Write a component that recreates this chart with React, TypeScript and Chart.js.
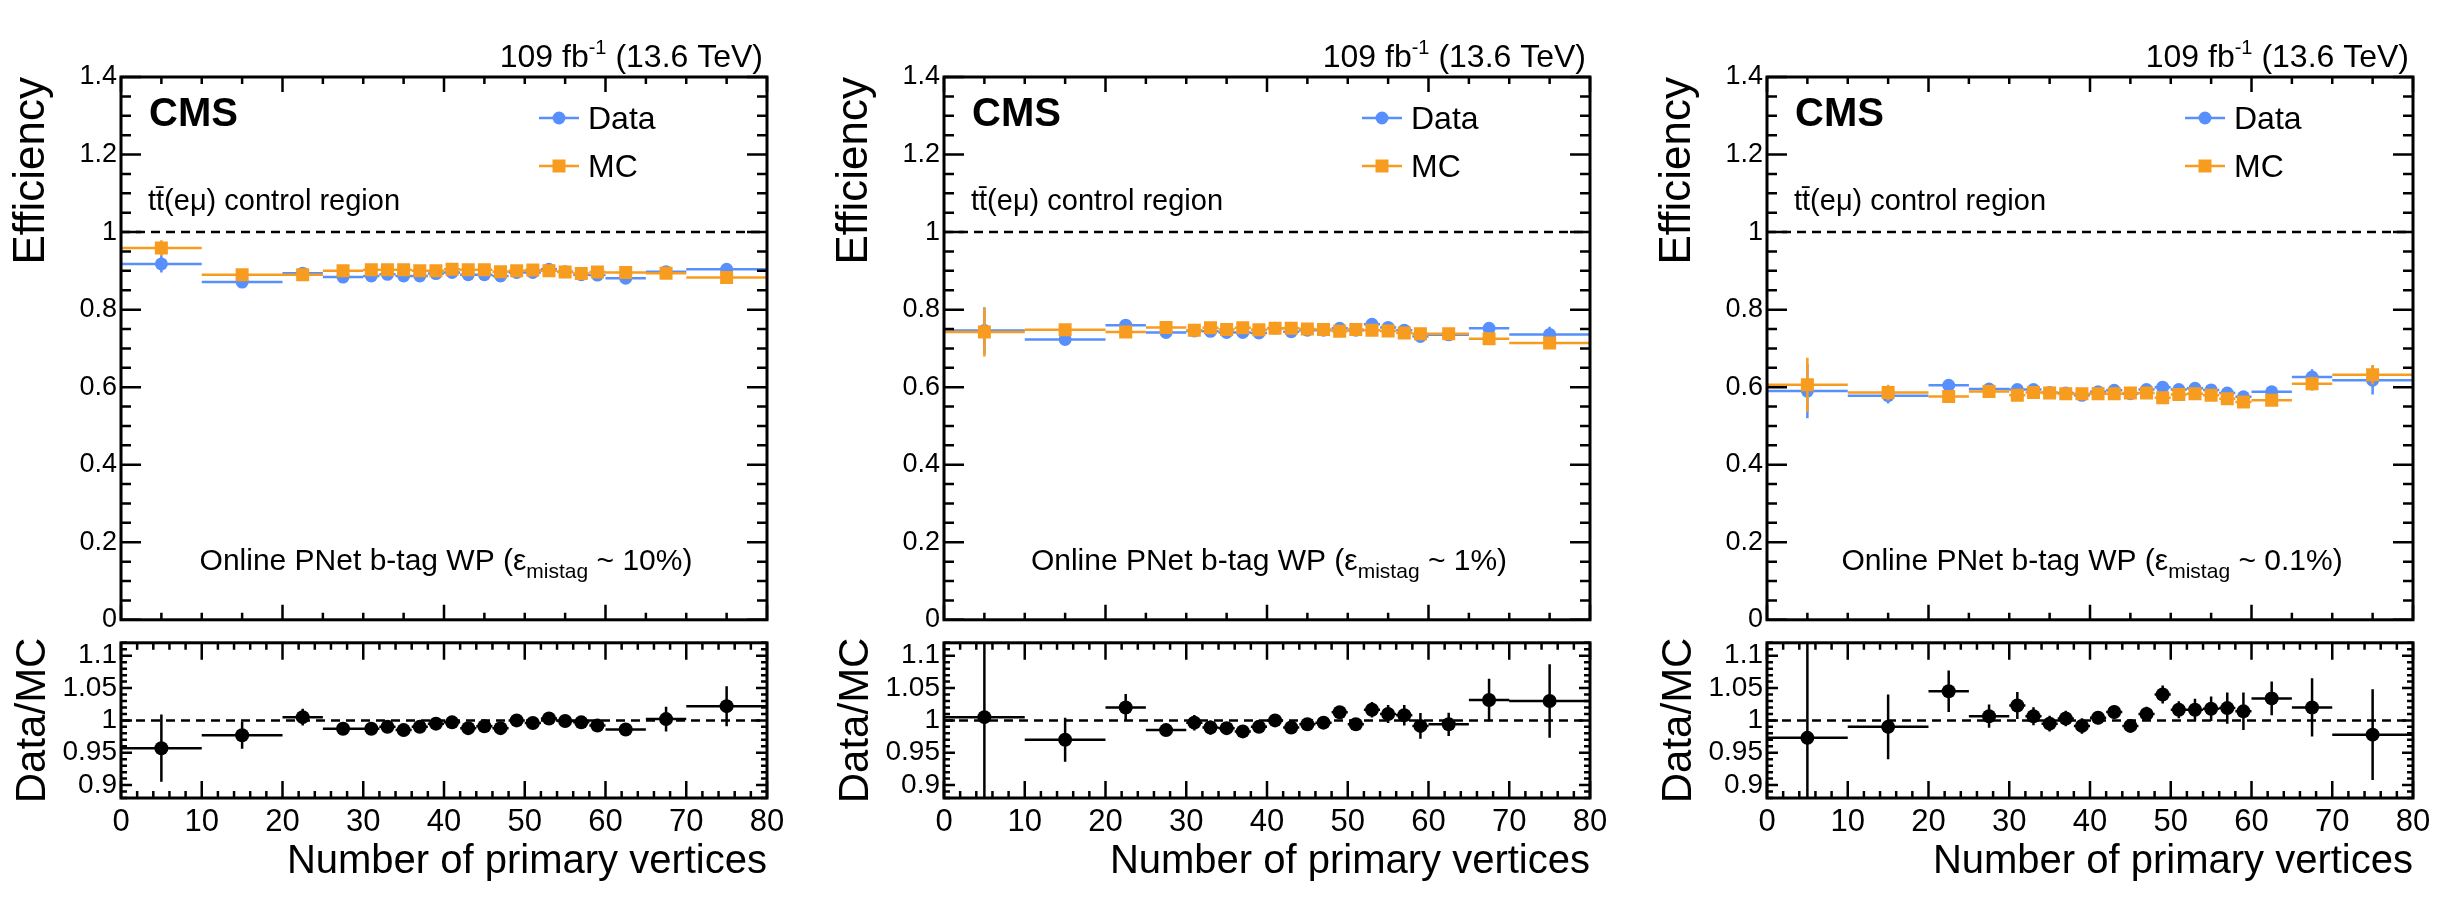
import React, { useEffect, useRef } from 'react';
import Chart from 'chart.js/auto';

// bins in number of primary vertices
const binEdges = [0, 10, 20, 25, 30, 32, 34, 36, 38, 40, 42, 44, 46, 48, 50, 52, 54, 56, 58, 60, 65, 70, 80];

// WP with 10% mistag rate
const effData10 = [0.918, 0.871, 0.894, 0.884, 0.887, 0.891, 0.887, 0.887, 0.893, 0.896, 0.890, 0.890, 0.887, 0.896, 0.896, 0.904, 0.898, 0.890, 0.889, 0.881, 0.898, 0.904];
const errData10 = [0.022, 0.008, 0.005, 0.004, 0.003, 0.003, 0.003, 0.003, 0.003, 0.003, 0.003, 0.003, 0.003, 0.003, 0.003, 0.003, 0.003, 0.003, 0.004, 0.004, 0.007, 0.015];
const effMc10 = [0.959, 0.890, 0.890, 0.900, 0.903, 0.903, 0.903, 0.900, 0.900, 0.904, 0.903, 0.903, 0.898, 0.900, 0.902, 0.900, 0.897, 0.893, 0.897, 0.896, 0.894, 0.883];
const errMc10 = [0.02, 0.005, 0.004, 0.003, 0.002, 0.002, 0.002, 0.002, 0.002, 0.002, 0.002, 0.002, 0.002, 0.002, 0.002, 0.002, 0.002, 0.002, 0.003, 0.003, 0.005, 0.007];
const ratio10 = [0.957, 0.977, 1.005, 0.987, 0.987, 0.990, 0.985, 0.990, 0.995, 0.997, 0.988, 0.991, 0.988, 1.000, 0.996, 1.003, 0.999, 0.997, 0.992, 0.986, 1.002, 1.022];
const errRatio10 = [0.052, 0.021, 0.013, 0.006, 0.005, 0.005, 0.005, 0.005, 0.005, 0.005, 0.005, 0.005, 0.005, 0.005, 0.005, 0.005, 0.005, 0.005, 0.008, 0.006, 0.019, 0.031];

// WP with 1% mistag rate
const effData1 = [0.746, 0.723, 0.760, 0.741, 0.745, 0.744, 0.741, 0.741, 0.740, 0.752, 0.743, 0.747, 0.747, 0.752, 0.747, 0.762, 0.754, 0.747, 0.731, 0.735, 0.752, 0.736];
const errData1 = [0.06, 0.012, 0.008, 0.005, 0.004, 0.004, 0.004, 0.004, 0.004, 0.004, 0.004, 0.004, 0.004, 0.004, 0.004, 0.005, 0.005, 0.006, 0.008, 0.007, 0.015, 0.02];
const effMc1 = [0.742, 0.748, 0.742, 0.754, 0.747, 0.753, 0.749, 0.753, 0.748, 0.752, 0.752, 0.750, 0.749, 0.744, 0.749, 0.747, 0.745, 0.740, 0.738, 0.738, 0.725, 0.714];
const errMc1 = [0.063, 0.012, 0.008, 0.005, 0.003, 0.003, 0.003, 0.003, 0.003, 0.003, 0.003, 0.003, 0.003, 0.003, 0.003, 0.004, 0.004, 0.005, 0.006, 0.006, 0.01, 0.012];
const ratio1 = [1.005, 0.970, 1.020, 0.985, 0.9965, 0.989, 0.988, 0.983, 0.990, 1.000, 0.989, 0.994, 0.9965, 1.0125, 0.994, 1.0165, 1.010, 1.008, 0.9915, 0.994, 1.0315, 1.030];
const errRatio1 = [0.2, 0.034, 0.021, 0.008, 0.012, 0.011, 0.009, 0.008, 0.008, 0.008, 0.008, 0.009, 0.009, 0.009, 0.009, 0.012, 0.014, 0.016, 0.02, 0.018, 0.033, 0.057];

// WP with 0.1% mistag rate
const effData01 = [0.590, 0.578, 0.605, 0.595, 0.594, 0.594, 0.586, 0.585, 0.579, 0.588, 0.592, 0.583, 0.594, 0.600, 0.594, 0.597, 0.593, 0.585, 0.575, 0.588, 0.626, 0.618];
const errData01 = [0.07, 0.02, 0.012, 0.008, 0.006, 0.006, 0.006, 0.006, 0.006, 0.006, 0.006, 0.006, 0.006, 0.006, 0.006, 0.007, 0.008, 0.009, 0.012, 0.012, 0.02, 0.037];
const effMc01 = [0.606, 0.586, 0.576, 0.589, 0.579, 0.586, 0.585, 0.583, 0.583, 0.583, 0.583, 0.585, 0.585, 0.573, 0.581, 0.583, 0.579, 0.570, 0.562, 0.566, 0.609, 0.632];
const errMc01 = [0.07, 0.02, 0.01, 0.006, 0.005, 0.005, 0.005, 0.005, 0.005, 0.005, 0.005, 0.005, 0.005, 0.005, 0.005, 0.006, 0.007, 0.008, 0.01, 0.01, 0.018, 0.025];
const ratio01 = [0.973, 0.990, 1.045, 1.0065, 1.023, 1.0065, 0.995, 1.003, 0.9915, 1.004, 1.013, 0.9915, 1.010, 1.040, 1.0165, 1.0165, 1.018, 1.019, 1.014, 1.034, 1.020, 0.978];
const errRatio01 = [0.2, 0.05, 0.032, 0.018, 0.021, 0.014, 0.012, 0.012, 0.012, 0.01, 0.01, 0.01, 0.011, 0.014, 0.013, 0.017, 0.019, 0.024, 0.029, 0.026, 0.045, 0.07];

const effTicks = [0, 0.2, 0.4, 0.6, 0.8, 1, 1.2, 1.4];
const ratioTicks = [0.9, 0.95, 1, 1.05, 1.1];
const nvtxTicks = [0, 10, 20, 30, 40, 50, 60, 70, 80];
const mistagLabels = ['10%', '1%', '0.1%'];

const BLUE = '#5790fc';
const ORANGE = '#f89c20';
const FONT = '"Liberation Sans", Arial, sans-serif';

const PANEL_STEP = 823;
const CANVAS_W = 800;

const panels = [
  { data: effData10, dataErr: errData10, mc: effMc10, mcErr: errMc10, ratio: ratio10, ratioErr: errRatio10, mistag: mistagLabels[0] },
  { data: effData1, dataErr: errData1, mc: effMc1, mcErr: errMc1, ratio: ratio1, ratioErr: errRatio1, mistag: mistagLabels[1] },
  { data: effData01, dataErr: errData01, mc: effMc01, mcErr: errMc01, ratio: ratio01, ratioErr: errRatio01, mistag: mistagLabels[2] },
];

const toPoints = (vals: number[]) =>
  vals.map((v, i) => ({ x: (binEdges[i] + binEdges[i + 1]) / 2, y: v }));

const fmt = (v: number) => String(Math.round(v * 100) / 100);

// horizontal bin-width bars and vertical error bars, drawn right before each dataset's markers
const errorBars = {
  id: 'errorBars',
  beforeDatasetDraw(chart: any, args: any) {
    const ds = chart.data.datasets[args.index];
    if (!ds.yErr) return;
    const { ctx, chartArea: a } = chart;
    const xs = chart.scales.x;
    const ys = chart.scales.y;
    ctx.save();
    ctx.beginPath();
    ctx.rect(a.left, a.top, a.right - a.left, a.bottom - a.top);
    ctx.clip();
    ctx.strokeStyle = ds.barColor;
    ctx.lineWidth = 2.5;
    ctx.beginPath();
    ds.data.forEach((p: any, i: number) => {
      const y = ys.getPixelForValue(p.y);
      ctx.moveTo(xs.getPixelForValue(binEdges[i]), y);
      ctx.lineTo(xs.getPixelForValue(binEdges[i + 1]), y);
      const x = xs.getPixelForValue(p.x);
      ctx.moveTo(x, ys.getPixelForValue(p.y - ds.yErr[i]));
      ctx.lineTo(x, ys.getPixelForValue(p.y + ds.yErr[i]));
    });
    ctx.stroke();
    ctx.restore();
  },
};

const unityLine = {
  id: 'unityLine',
  beforeDatasetsDraw(chart: any) {
    const { ctx, chartArea: a } = chart;
    const y = chart.scales.y.getPixelForValue(1);
    ctx.save();
    ctx.strokeStyle = '#000';
    ctx.lineWidth = 2.5;
    ctx.setLineDash([9, 6]);
    ctx.beginPath();
    ctx.moveTo(a.left, y);
    ctx.lineTo(a.right, y);
    ctx.stroke();
    ctx.restore();
  },
};

type FrameSpec = { xMajor: number; xMinor: number; xMajLen: number; xMinLen: number; yMajor: number; yMinor: number; yMajLen: number; yMinLen: number };

// ROOT-style frame with inward ticks on all four sides
const makeFrame = (f: FrameSpec) => ({
  id: 'frame',
  afterDraw(chart: any) {
    const { ctx, chartArea: a } = chart;
    const xs = chart.scales.x;
    const ys = chart.scales.y;
    ctx.save();
    ctx.strokeStyle = '#000';
    ctx.lineWidth = 2.5;
    ctx.beginPath();
    const eps = 1e-6;
    for (let v = xs.min; v <= xs.max + eps; v += f.xMinor) {
      const isMaj = Math.abs(v / f.xMajor - Math.round(v / f.xMajor)) < 1e-4;
      const len = isMaj ? f.xMajLen : f.xMinLen;
      const x = xs.getPixelForValue(v);
      ctx.moveTo(x, a.bottom);
      ctx.lineTo(x, a.bottom - len);
      ctx.moveTo(x, a.top);
      ctx.lineTo(x, a.top + len);
    }
    const y0 = Math.ceil(ys.min / f.yMinor - 1e-4) * f.yMinor;
    for (let v = y0; v <= ys.max + eps; v += f.yMinor) {
      const isMaj = Math.abs(v / f.yMajor - Math.round(v / f.yMajor)) < 1e-4;
      const len = isMaj ? f.yMajLen : f.yMinLen;
      const y = ys.getPixelForValue(v);
      ctx.moveTo(a.left, y);
      ctx.lineTo(a.left + len, y);
      ctx.moveTo(a.right, y);
      ctx.lineTo(a.right - len, y);
    }
    ctx.stroke();
    ctx.lineWidth = 3;
    ctx.strokeRect(a.left, a.top, a.right - a.left, a.bottom - a.top);
    ctx.restore();
  },
});

const drawMarker = (ctx: CanvasRenderingContext2D, style: string, x: number, y: number, color: string) => {
  ctx.fillStyle = color;
  ctx.beginPath();
  if (style === 'rect') ctx.rect(x - 6.5, y - 6.5, 13, 13);
  else ctx.arc(x, y, 6.5, 0, Math.PI * 2);
  ctx.fill();
};

const makeLabels = (mistag: string) => ({
  id: 'labels',
  afterDraw(chart: any) {
    const { ctx, chartArea: a } = chart;
    ctx.save();
    ctx.fillStyle = '#000';
    ctx.textBaseline = 'alphabetic';
    ctx.textAlign = 'left';

    // luminosity
    const lumiA = '109 fb';
    const lumiSup = '-1';
    const lumiB = ' (13.6 TeV)';
    ctx.font = `32px ${FONT}`;
    const wA = ctx.measureText(lumiA).width;
    const wB = ctx.measureText(lumiB).width;
    ctx.font = `20px ${FONT}`;
    const wS = ctx.measureText(lumiSup).width;
    let x = a.right - 4 - (wA + wS + wB);
    const base = a.top - 10;
    ctx.font = `32px ${FONT}`;
    ctx.fillText(lumiA, x, base);
    ctx.font = `20px ${FONT}`;
    ctx.fillText(lumiSup, x + wA, base - 13);
    ctx.font = `32px ${FONT}`;
    ctx.fillText(lumiB, x + wA + wS, base);

    // CMS
    ctx.font = `bold 40px ${FONT}`;
    ctx.fillText('CMS', a.left + 28, a.top + 49);

    // region
    ctx.font = `29px ${FONT}`;
    ctx.fillText('tt\u0304(eμ) control region', a.left + 27, a.top + 133);

    // legend
    const rows = [chart.data.datasets[0], chart.data.datasets[1]];
    rows.forEach((ds: any, i: number) => {
      const my = a.top + 41 + i * 48;
      const mx = a.left + 438;
      ctx.strokeStyle = ds.barColor;
      ctx.lineWidth = 2.5;
      ctx.beginPath();
      ctx.moveTo(mx - 20, my);
      ctx.lineTo(mx + 20, my);
      ctx.stroke();
      drawMarker(ctx, ds.pointStyle, mx, my, ds.barColor);
      ctx.fillStyle = '#000';
      ctx.font = `32px ${FONT}`;
      ctx.fillText(ds.label, a.left + 467, my + 11);
    });

    // working point
    const p1 = 'Online PNet b-tag WP (ε';
    const sub = 'mistag';
    const p2 = ` ~ ${mistag})`;
    ctx.font = `30px ${FONT}`;
    const w1 = ctx.measureText(p1).width;
    const w2 = ctx.measureText(p2).width;
    ctx.font = `21px ${FONT}`;
    const ws = ctx.measureText(sub).width;
    const wb = a.top + 493;
    x = (a.left + a.right) / 2 + 2 - (w1 + ws + w2) / 2;
    ctx.font = `30px ${FONT}`;
    ctx.fillText(p1, x, wb);
    ctx.font = `21px ${FONT}`;
    ctx.fillText(sub, x + w1, wb + 8);
    ctx.font = `30px ${FONT}`;
    ctx.fillText(p2, x + w1 + ws, wb);
    ctx.restore();
  },
});

type PanelProps = { index: number };

function EfficiencyPad({ index }: PanelProps) {
  const canvasRef = useRef<HTMLCanvasElement | null>(null);
  useEffect(() => {
    if (!canvasRef.current) return;
    const p = panels[index];
    const chart = new Chart(canvasRef.current, {
      type: 'scatter',
      data: {
        datasets: [
          {
            label: 'Data',
            data: toPoints(p.data),
            yErr: p.dataErr,
            barColor: BLUE,
            order: 1,
            pointStyle: 'circle',
            pointRadius: 6.5,
            pointBackgroundColor: BLUE,
            pointBorderColor: BLUE,
            pointBorderWidth: 0,
          } as any,
          {
            label: 'MC',
            data: toPoints(p.mc),
            yErr: p.mcErr,
            barColor: ORANGE,
            order: 0,
            pointStyle: 'rect',
            pointRadius: 9.2,
            pointBackgroundColor: ORANGE,
            pointBorderColor: ORANGE,
            pointBorderWidth: 0,
          } as any,
        ],
      },
      options: {
        animation: false,
        responsive: false,
        devicePixelRatio: 1,
        layout: { padding: { left: 0, right: CANVAS_W - 767, top: 77, bottom: 19 } },
        plugins: { legend: { display: false }, tooltip: { enabled: false } },
        scales: {
          x: { type: 'linear', min: 0, max: 80, display: false },
          y: {
            type: 'linear',
            min: 0,
            max: 1.4,
            afterBuildTicks: (s: any) => { s.ticks = effTicks.map((v) => ({ value: v })); },
            afterFit: (s: any) => { s.width = 121; },
            grid: { display: false, drawTicks: false },
            border: { display: false },
            ticks: { color: '#000', padding: 4, font: { family: FONT, size: 27 }, callback: (v: any) => fmt(Number(v)) },
            title: { display: true, text: 'Efficiency', align: 'end', color: '#000', font: { family: FONT, size: 44 }, padding: { top: 5, bottom: 0 } },
          },
        },
      },
      plugins: [
        errorBars,
        unityLine,
        makeFrame({ xMajor: 20, xMinor: 5, xMajLen: 15, xMinLen: 7, yMajor: 0.2, yMinor: 0.05, yMajLen: 20, yMinLen: 10 }),
        makeLabels(p.mistag),
      ],
    } as any);
    return () => chart.destroy();
  }, [index]);
  return (
    <canvas
      ref={canvasRef}
      width={CANVAS_W}
      height={640}
      style={{ position: 'absolute', left: index * PANEL_STEP, top: 0, width: CANVAS_W, height: 640 }}
    />
  );
}

function RatioPad({ index }: PanelProps) {
  const canvasRef = useRef<HTMLCanvasElement | null>(null);
  useEffect(() => {
    if (!canvasRef.current) return;
    const p = panels[index];
    const chart = new Chart(canvasRef.current, {
      type: 'scatter',
      data: {
        datasets: [
          {
            label: 'Data/MC',
            data: toPoints(p.ratio),
            yErr: p.ratioErr,
            barColor: '#000',
            pointStyle: 'circle',
            pointRadius: 7,
            pointBackgroundColor: '#000',
            pointBorderColor: '#000',
            pointBorderWidth: 0,
          } as any,
        ],
      },
      options: {
        animation: false,
        responsive: false,
        devicePixelRatio: 1,
        layout: { padding: { left: 0, right: CANVAS_W - 767, top: 16, bottom: 0 } },
        plugins: { legend: { display: false }, tooltip: { enabled: false } },
        scales: {
          x: {
            type: 'linear',
            min: 0,
            max: 80,
            afterBuildTicks: (s: any) => { s.ticks = nvtxTicks.map((v) => ({ value: v })); },
            afterFit: (s: any) => { s.height = 111; },
            grid: { display: false, drawTicks: false },
            border: { display: false },
            ticks: { color: '#000', padding: 6, maxRotation: 0, autoSkip: false, font: { family: FONT, size: 31 } },
            title: { display: true, text: 'Number of primary vertices', align: 'end', color: '#000', font: { family: FONT, size: 40 }, padding: { top: 0, bottom: 23 } },
          },
          y: {
            type: 'linear',
            min: 0.88,
            max: 1.12,
            afterBuildTicks: (s: any) => { s.ticks = ratioTicks.map((v) => ({ value: v })); },
            afterFit: (s: any) => { s.width = 121; },
            grid: { display: false, drawTicks: false },
            border: { display: false },
            ticks: { color: '#000', padding: 4, font: { family: FONT, size: 28 }, callback: (v: any) => fmt(Number(v)) },
            title: { display: true, text: 'Data/MC', align: 'center', color: '#000', font: { family: FONT, size: 42 }, padding: { top: 8, bottom: 0 } },
          },
        },
      },
      plugins: [
        errorBars,
        unityLine,
        makeFrame({ xMajor: 10, xMinor: 2, xMajLen: 17, xMinLen: 7, yMajor: 0.05, yMinor: 0.01, yMajLen: 11, yMinLen: 6 }),
      ],
    } as any);
    return () => chart.destroy();
  }, [index]);
  return (
    <canvas
      ref={canvasRef}
      width={CANVAS_W}
      height={287}
      style={{ position: 'absolute', left: index * PANEL_STEP, top: 622, width: CANVAS_W, height: 287 }}
    />
  );
}

export default function App(): React.JSX.Element {
  return (
    <div style={{ position: 'absolute', left: 0, top: 0, width: 2450, height: 909, background: '#fff', overflow: 'hidden' }}>
      {panels.map((_, i) => (
        <React.Fragment key={i}>
          <EfficiencyPad index={i} />
          <RatioPad index={i} />
        </React.Fragment>
      ))}
    </div>
  );
}
